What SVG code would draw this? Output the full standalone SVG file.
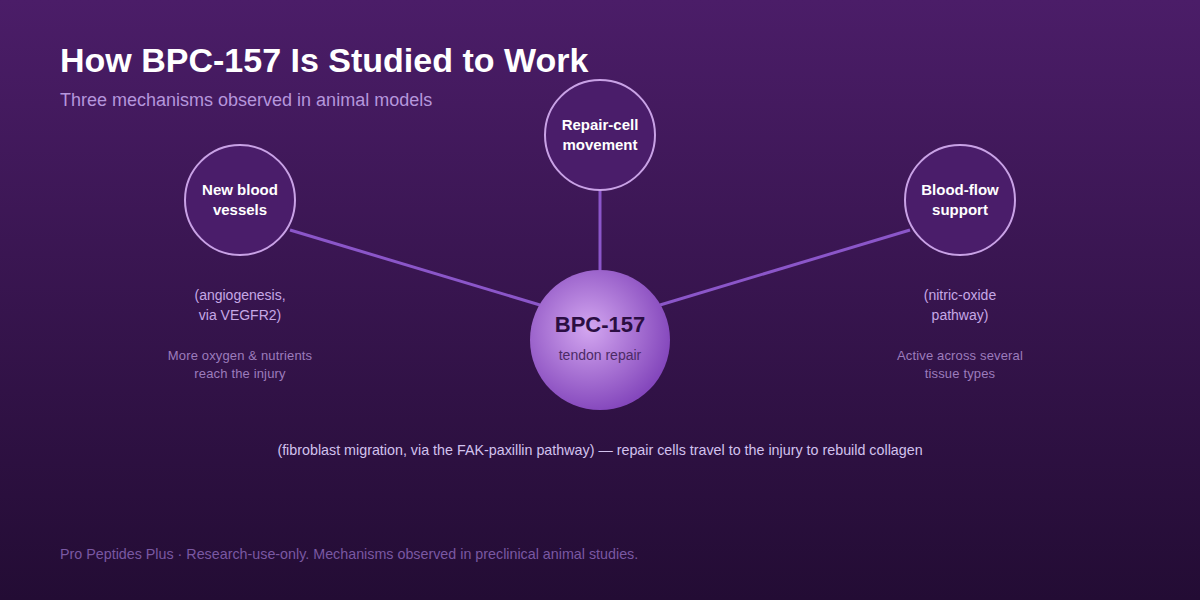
<svg xmlns="http://www.w3.org/2000/svg" width="1200" height="600" viewBox="0 0 1200 600">
<defs>
<linearGradient id="bg" x1="0" y1="0" x2="0" y2="1">
<stop offset="0" stop-color="#4b1d68"/>
<stop offset="1" stop-color="#230c34"/>
</linearGradient>
<radialGradient id="core" cx="0.42" cy="0.42" r="0.6">
<stop offset="0" stop-color="#d3a6f0"/>
<stop offset="1" stop-color="#8447bc"/>
</radialGradient>
<style>
text{font-family:"Liberation Sans",Arial,sans-serif;}
.node{fill:#4a1d6a;stroke:#c9a2e6;stroke-width:2;}
.nl{fill:#ffffff;font-size:15px;font-weight:bold;text-anchor:middle;}
.sub{fill:#c6a8e6;font-size:14px;text-anchor:middle;}
.note{fill:#9c7cbc;font-size:13px;text-anchor:middle;letter-spacing:0.15px;}
.conn{stroke:#8b56c9;stroke-width:3;fill:none;}
</style>
</defs>
<rect width="1200" height="600" fill="url(#bg)"/>
<text x="60" y="72" font-size="34" font-weight="bold" fill="#ffffff">How BPC-157 Is Studied to Work</text>
<text x="60" y="106" font-size="18" fill="#b596dc">Three mechanisms observed in animal models</text>
<g id="connectors">
<line class="conn" x1="290" y1="230" x2="540" y2="305"/>
<line class="conn" x1="600" y1="190" x2="600" y2="270"/>
<line class="conn" x1="910" y1="230" x2="660" y2="305"/>
</g>
<g id="node-core">
<circle cx="600" cy="340" r="70" fill="url(#core)"/>
<text x="600" y="332" font-size="22" font-weight="bold" fill="#2b0e42" text-anchor="middle">BPC-157</text>
<text x="600" y="360" font-size="14" fill="#4c2a66" text-anchor="middle">tendon repair</text>
</g>
<g id="node-vessels">
<circle class="node" cx="240" cy="200" r="55"/>
<text class="nl" x="240" y="195">New blood</text>
<text class="nl" x="240" y="215">vessels</text>
<text class="sub" x="240" y="300">(angiogenesis,</text>
<text class="sub" x="240" y="320">via VEGFR2)</text>
<text class="note" x="240" y="360">More oxygen &amp; nutrients</text>
<text class="note" x="240" y="378">reach the injury</text>
</g>
<g id="node-movement">
<circle class="node" cx="600" cy="135" r="55"/>
<text class="nl" x="600" y="130">Repair-cell</text>
<text class="nl" x="600" y="150">movement</text>
</g>
<g id="node-flow">
<circle class="node" cx="960" cy="200" r="55"/>
<text class="nl" x="960" y="195">Blood-flow</text>
<text class="nl" x="960" y="215">support</text>
<text class="sub" x="960" y="300">(nitric-oxide</text>
<text class="sub" x="960" y="320">pathway)</text>
<text class="note" x="960" y="360">Active across several</text>
<text class="note" x="960" y="378">tissue types</text>
</g>
<text x="600" y="455" font-size="14.3" fill="#d2c2ee" text-anchor="middle">(fibroblast migration, via the FAK-paxillin pathway) — repair cells travel to the injury to rebuild collagen</text>
<text x="60" y="559" font-size="14.3" fill="#7a58a2">Pro Peptides Plus · Research-use-only. Mechanisms observed in preclinical animal studies.</text>
</svg>
